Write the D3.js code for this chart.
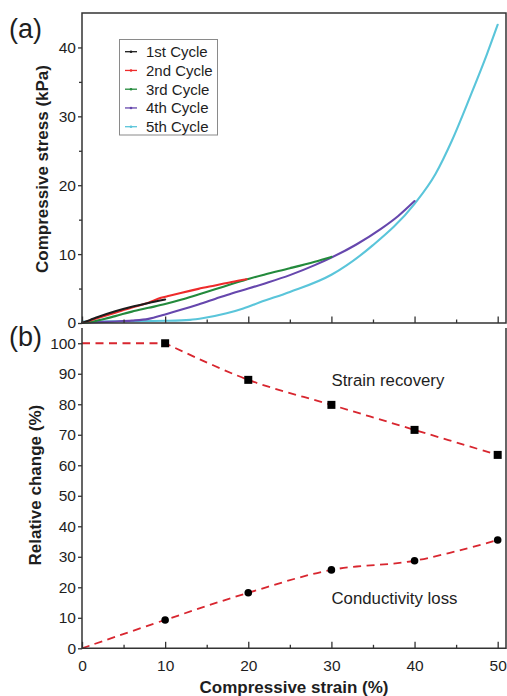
<!DOCTYPE html>
<html>
<head>
<meta charset="utf-8">
<script src="https://cdn.jsdelivr.net/npm/d3@7"></script>
<style>
  html, body { margin: 0; padding: 0; background: #fff; }
  svg { display: block; font-family: "Liberation Sans", Arial, sans-serif; }
</style>
</head>
<body>
<svg id="chart" width="507" height="696"></svg>
<script>
// ---- Panel (a): compressive stress-strain loops, five cycles ----
const cycleNames = ["1st Cycle", "2nd Cycle", "3rd Cycle", "4th Cycle", "5th Cycle"];
const cycleColors = ["#1c1c1c", "#ee2b2b", "#238a3c", "#6647ad", "#5ac5da"];

const strainC1 = [0, 1, 2, 4, 6, 8, 10];
const stressC1 = [0, 0.45, 0.9, 1.7, 2.35, 2.9, 3.4];

const strainC2 = [0, 2, 4, 6, 8, 9.5, 10.5, 12, 14, 16, 18, 19.8];
const stressC2 = [0, 0.75, 1.5, 2.25, 2.95, 3.65, 3.95, 4.4, 4.95, 5.45, 5.95, 6.35];

const strainC3 = [0, 1, 2, 4, 6, 8, 10, 12, 14, 16, 18, 20, 22, 25, 28, 30];
const stressC3 = [0, 0.1, 0.4, 1.0, 1.65, 2.2, 2.75, 3.4, 4.15, 4.9, 5.65, 6.4, 7.05, 7.95, 8.9, 9.6];

const strainC4 = [0, 2, 4, 6, 8, 10, 12, 14, 16, 18, 20, 22, 25, 28, 30, 33, 36, 38, 40];
const stressC4 = [0, 0.12, 0.22, 0.35, 0.6, 1.25, 1.95, 2.7, 3.5, 4.3, 5.0, 5.75, 6.95, 8.4, 9.5, 11.4, 13.7, 15.5, 17.7];

const strainC5 = [0, 5, 10, 13, 14.8, 17.4, 19.4, 21.4, 25, 30, 35, 40, 42.5, 44.5, 46.7, 48.7, 50];
const stressC5 = [0.2, 0.25, 0.32, 0.45, 0.75, 1.4, 2.1, 3.0, 4.5, 7.0, 11.3, 17.3, 21.6, 26.5, 32.9, 39.0, 43.3];

const cycleStrain = [strainC1, strainC2, strainC3, strainC4, strainC5];
const cycleStress = [stressC1, stressC2, stressC3, stressC4, stressC5];

const stressTicks = [0, 10, 20, 30, 40];
const stressMinorTicks = [5, 15, 25, 35];

// ---- Panel (b): strain recovery and conductivity loss ----
const stepStrain = [10, 20, 30, 40, 50];
const strainRecovery = [100, 88.0, 79.8, 71.6, 63.4];
const conductivityLoss = [9.3, 18.2, 25.7, 28.7, 35.5];
// dashed guide curves start from the unloaded state
const recoveryStart = [0, 100];
const lossStart = [0, 0];

const changeTicks = [0, 10, 20, 30, 40, 50, 60, 70, 80, 90, 100];
const strainTicks = [0, 10, 20, 30, 40, 50];
const strainMinorTicks = [5, 15, 25, 35, 45];

// ---- layout ----
const svg = d3.select("#chart");
const left = 82, right = 506;
const aTop = 13, aBottom = 323;
const bTop = 328, bBottom = 648.3;
const axisColor = "#333";
const textColor = "#1e1e1e";

const x = d3.scaleLinear().domain([0, 51]).range([left, right]);
const yA = d3.scaleLinear().domain([0, 45]).range([aBottom, aTop]);
const yB = d3.scaleLinear().domain([0, 105]).range([bBottom, bTop]);

function styleAxis(g, fontSize) {
  g.select(".domain").remove();
  g.selectAll(".tick line").attr("stroke", axisColor).attr("stroke-width", 1.3);
  g.selectAll(".tick text").attr("fill", textColor).attr("font-size", fontSize)
    .attr("font-family", "Liberation Sans, Arial, sans-serif");
}

// ---------- panel (a) ----------
const gA = svg.append("g");

// curves (1st cycle drawn last, on top)
const lineA = d3.line().curve(d3.curveMonotoneX)
  .x(d => x(d[0])).y(d => yA(d[1]));
for (let i = 4; i >= 0; i--) {
  const pts = cycleStrain[i].map((s, j) => [s, cycleStress[i][j]]);
  gA.append("path").datum(pts)
    .attr("d", lineA)
    .attr("fill", "none")
    .attr("stroke", cycleColors[i])
    .attr("stroke-width", 2.1)
    .attr("stroke-linejoin", "round")
    .attr("stroke-linecap", "round");
}

// y axis (outward ticks)
gA.append("g").attr("transform", `translate(${left},0)`)
  .call(d3.axisLeft(yA).tickValues(stressTicks).tickSize(4).tickPadding(2).tickFormat(d3.format("d")))
  .call(g => styleAxis(g, 15.5));
gA.append("g").attr("transform", `translate(${left},0)`)
  .call(d3.axisLeft(yA).tickValues(stressMinorTicks).tickSize(3).tickFormat(""))
  .call(g => styleAxis(g, 0));

// bottom axis of panel (a): inward ticks, no labels
gA.append("g").attr("transform", `translate(0,${aBottom})`)
  .call(d3.axisBottom(x).tickValues(strainTicks).tickSize(-6.5).tickFormat(""))
  .call(g => styleAxis(g, 0));
gA.append("g").attr("transform", `translate(0,${aBottom})`)
  .call(d3.axisBottom(x).tickValues(strainMinorTicks).tickSize(-3.5).tickFormat(""))
  .call(g => styleAxis(g, 0));

// frame
gA.append("path")
  .attr("d", `M${left},${aBottom}V${aTop}H${right}V${aBottom}H${left}`)
  .attr("fill", "none").attr("stroke", axisColor).attr("stroke-width", 1.5);

// y title
gA.append("text")
  .attr("transform", `translate(48,${(aTop + aBottom) / 2 + 1}) rotate(-90)`)
  .attr("text-anchor", "middle")
  .attr("font-size", 17).attr("font-weight", "bold").attr("fill", textColor)
  .text("Compressive stress (kPa)");

// panel tag
svg.append("text").attr("x", 9).attr("y", 37.5)
  .attr("font-size", 27).attr("fill", textColor).text("(a)");

// legend
const legend = gA.append("g");
legend.append("rect")
  .attr("x", 119.5).attr("y", 39.5).attr("width", 98).attr("height", 95.5)
  .attr("fill", "#fff").attr("stroke", "#8a8a8a").attr("stroke-width", 1);
cycleNames.forEach((name, i) => {
  const cy = 51.7 + i * 18.75;
  legend.append("line")
    .attr("x1", 125).attr("x2", 137).attr("y1", cy).attr("y2", cy)
    .attr("stroke", cycleColors[i]).attr("stroke-width", 1.3);
  legend.append("circle").attr("cx", 131).attr("cy", cy).attr("r", 1.3)
    .attr("fill", cycleColors[i]);
  legend.append("text").attr("x", 146).attr("y", cy + 5.4)
    .attr("font-size", 15).attr("fill", textColor).text(name);
});

// ---------- panel (b) ----------
const gB = svg.append("g");

const straight = d3.line().x(d => x(d[0])).y(d => yB(d[1]));
const smooth = d3.line().curve(d3.curveCatmullRom.alpha(0.5))
  .x(d => x(d[0])).y(d => yB(d[1]));
const recoveryPts = stepStrain.map((s, i) => [s, strainRecovery[i]]);
const lossPts = [lossStart].concat(stepStrain.map((s, i) => [s, conductivityLoss[i]]));

// recovery: flat lead-in to the first step, then a smooth guide through the steps
const recoveryPath = straight([recoveryStart, recoveryPts[0]]) +
  smooth(recoveryPts).replace(/^M/, "L");
const lossPath = smooth(lossPts);

[recoveryPath, lossPath].forEach(dStr => {
  gB.append("path")
    .attr("d", dStr)
    .attr("fill", "none")
    .attr("stroke", "#d8262f")
    .attr("stroke-width", 1.8)
    .attr("stroke-dasharray", "8,5.5");
});

// markers
gB.selectAll("rect.rec").data(stepStrain).enter().append("rect")
  .attr("class", "rec")
  .attr("x", (d) => x(d) - 4).attr("y", (d, i) => yB(strainRecovery[i]) - 4)
  .attr("width", 8).attr("height", 8).attr("fill", "#000");
gB.selectAll("circle.loss").data(stepStrain).enter().append("circle")
  .attr("class", "loss")
  .attr("cx", d => x(d)).attr("cy", (d, i) => yB(conductivityLoss[i]))
  .attr("r", 3.8).attr("fill", "#000");

// y axis
gB.append("g").attr("transform", `translate(${left},0)`)
  .call(d3.axisLeft(yB).tickValues(changeTicks).tickSize(4).tickPadding(2).tickFormat(d3.format("d")))
  .call(g => styleAxis(g, 15.5));

// x axis: inward ticks with labels below
gB.append("g").attr("transform", `translate(0,${bBottom})`)
  .call(d3.axisBottom(x).tickValues(strainTicks).tickSize(-6.5).tickPadding(12).tickFormat(d3.format("d")))
  .call(g => styleAxis(g, 15.5));
gB.append("g").attr("transform", `translate(0,${bBottom})`)
  .call(d3.axisBottom(x).tickValues(strainMinorTicks).tickSize(-3.5).tickFormat(""))
  .call(g => styleAxis(g, 0));

// frame (left, bottom, right)
gB.append("path")
  .attr("d", `M${left},${bTop}V${bBottom}H${right}V${bTop}`)
  .attr("fill", "none").attr("stroke", axisColor).attr("stroke-width", 1.5);

// series annotations
gB.append("text").attr("x", 331.5).attr("y", 386)
  .attr("font-size", 16.8).attr("fill", textColor).text("Strain recovery");
gB.append("text").attr("x", 331.5).attr("y", 604)
  .attr("font-size", 16.8).attr("fill", textColor).text("Conductivity loss");

// titles
gB.append("text")
  .attr("transform", `translate(41,${(bTop + bBottom) / 2 - 3}) rotate(-90)`)
  .attr("text-anchor", "middle")
  .attr("font-size", 17).attr("font-weight", "bold").attr("fill", textColor)
  .text("Relative change (%)");
gB.append("text")
  .attr("x", (left + right) / 2).attr("y", 693)
  .attr("text-anchor", "middle")
  .attr("font-size", 17).attr("font-weight", "bold").attr("fill", textColor)
  .text("Compressive strain (%)");

svg.append("text").attr("x", 9).attr("y", 346)
  .attr("font-size", 27).attr("fill", textColor).text("(b)");
</script>
</body>
</html>
